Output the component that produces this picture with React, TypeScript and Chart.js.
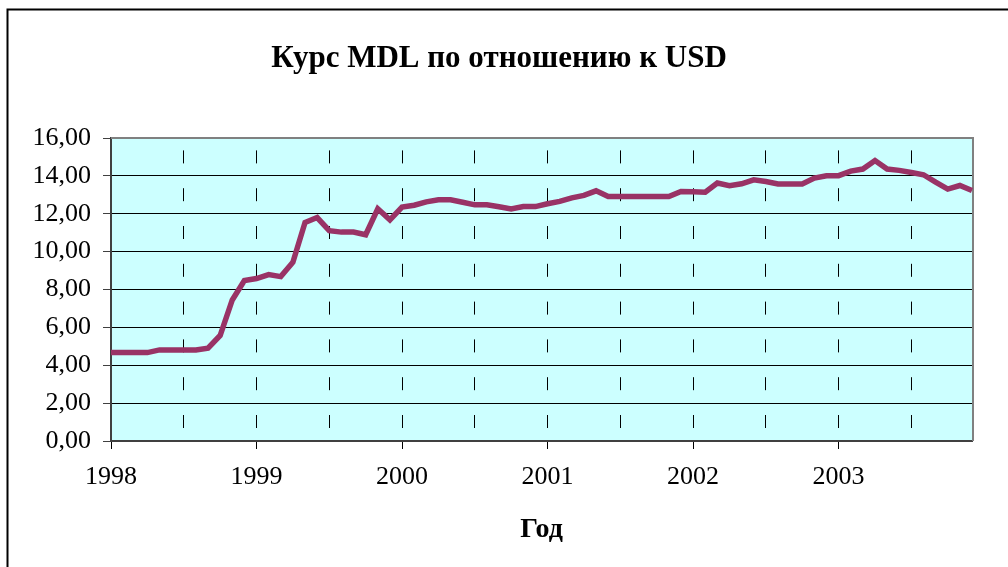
import React, { useEffect, useRef } from 'react';
import { Chart, registerables } from 'chart.js';

Chart.register(...registerables);

const TITLE = 'Курс MDL по отношению к USD';
const X_TITLE = 'Год';

const YEARS = ['1998', '1999', '2000', '2001', '2002', '2003'];
const MONTHS = ['01', '02', '03', '04', '05', '06', '07', '08', '09', '10', '11', '12'];

const RATE_1998 = [4.67, 4.67, 4.67, 4.67, 4.81, 4.81, 4.81, 4.81, 4.9, 5.57, 7.45, 8.47];
const RATE_1999 = [8.58, 8.79, 8.68, 9.44, 11.54, 11.8, 11.11, 11.03, 11.03, 10.89, 12.26, 11.68];
const RATE_2000 = [12.35, 12.45, 12.63, 12.74, 12.74, 12.61, 12.47, 12.47, 12.37, 12.25, 12.38, 12.38];
const RATE_2001 = [12.53, 12.65, 12.84, 12.97, 13.21, 12.91, 12.91, 12.91, 12.91, 12.91, 12.91, 13.18];
const RATE_2002 = [13.16, 13.14, 13.62, 13.48, 13.58, 13.79, 13.7, 13.57, 13.57, 13.57, 13.88, 14.01];
const RATE_2003 = [14.01, 14.25, 14.36, 14.81, 14.36, 14.29, 14.18, 14.06, 13.67, 13.3, 13.49, 13.23];

const Y_MIN = 0;
const Y_MAX = 16;
const Y_STEP = 2;

const SERIF = '"Liberation Serif", "Times New Roman", serif';

export default function App() {
  const ref = useRef<HTMLCanvasElement>(null);

  useEffect(() => {
    if (!ref.current) return;
    const labels = YEARS.flatMap((y) => MONTHS.map((m) => `${y}-${m}`));
    const data = [...RATE_1998, ...RATE_1999, ...RATE_2000, ...RATE_2001, ...RATE_2002, ...RATE_2003];

    const framePlugin = {
      id: 'frame',
      beforeDraw(chart: any) {
        const { ctx, chartArea: a } = chart;
        ctx.save();
        ctx.fillStyle = '#ffffff';
        ctx.fillRect(0, 0, chart.width, chart.height);
        ctx.fillStyle = '#CCFFFF';
        ctx.fillRect(a.left, a.top, a.right - a.left, a.bottom - a.top);
        ctx.strokeStyle = '#000000';
        ctx.lineWidth = 2;
        ctx.beginPath();
        ctx.moveTo(7.5, 600);
        ctx.lineTo(7.5, 9.5);
        ctx.lineTo(1100, 9.5);
        ctx.stroke();
        ctx.restore();
      },
      beforeDatasetsDraw(chart: any) {
        const { ctx, chartArea: a } = chart;
        ctx.save();
        ctx.strokeStyle = '#808080';
        ctx.lineWidth = 2;
        ctx.beginPath();
        ctx.moveTo(a.left, a.top);
        ctx.lineTo(a.right + 1, a.top);
        ctx.lineTo(a.right + 1, a.bottom);
        ctx.stroke();
        ctx.restore();
      },
      afterDraw(chart: any) {
        const { ctx, chartArea: a } = chart;
        ctx.save();
        ctx.fillStyle = '#000000';
        ctx.textAlign = 'center';
        ctx.textBaseline = 'alphabetic';
        ctx.font = `bold 31px ${SERIF}`;
        ctx.fillText(TITLE, 499, 67);
        ctx.font = `bold 28px ${SERIF}`;
        ctx.fillText(X_TITLE, (a.left + a.right) / 2, 537);
        ctx.restore();
      },
    };

    const chart = new Chart(ref.current, {
      type: 'line',
      data: {
        labels,
        datasets: [
          {
            label: 'MDL/USD',
            data,
            borderColor: '#993366',
            borderWidth: 5.5,
            pointRadius: 0,
            tension: 0,
            fill: false,
          },
        ],
      },
      plugins: [framePlugin],
      options: {
        responsive: false,
        animation: false,
        layout: { autoPadding: false, padding: { top: 138, right: 36, bottom: 0, left: 0 } },
        plugins: {
          legend: { display: false },
          title: { display: false },
          tooltip: { enabled: false },
        },
        scales: {
          x: {
            type: 'category',
            offset: false,
            grid: {
              offset: false,
              color: (c: any) => (c.index % 6 === 0 && c.index !== 0 ? '#000000' : 'rgba(0,0,0,0)'),
              lineWidth: 1,
              tickColor: (c: any) => (c.index % 12 === 0 ? '#000000' : 'rgba(0,0,0,0)'),
              tickLength: 8,
              drawTicks: true,
            },
            border: { display: true, color: '#404040', width: 2, dash: [13, 24.8], dashOffset: 25.4 },
            ticks: {
              autoSkip: false,
              maxRotation: 0,
              minRotation: 0,
              padding: 13,
              color: '#000000',
              font: { family: SERIF, size: 26 },
              callback: (_v: any, i: number) => (i % 12 === 0 ? YEARS[i / 12] : ''),
            },
            afterFit: (s: any) => {
              s.height = 126;
            },
          },
          y: {
            min: Y_MIN,
            max: Y_MAX,
            grid: {
              color: (c: any) => (c.index === 0 || c.index === 8 ? 'rgba(0,0,0,0)' : '#000000'),
              lineWidth: 1,
              tickColor: '#404040',
              tickLength: 8,
            },
            border: { display: true, color: '#404040', width: 2 },
            ticks: {
              stepSize: Y_STEP,
              padding: 12,
              color: '#000000',
              font: { family: SERIF, size: 26 },
              callback: (v: any) => Number(v).toFixed(2).replace('.', ','),
            },
            afterFit: (s: any) => {
              s.width = 111;
            },
          },
        },
      },
    } as any);

    return () => chart.destroy();
  }, []);

  return (
    <div style={{ position: 'fixed', left: 0, top: 0, width: 1008, height: 567, background: '#fff' }}>
      <canvas ref={ref} width={1008} height={567} style={{ display: 'block', width: 1008, height: 567 }} />
    </div>
  );
}
